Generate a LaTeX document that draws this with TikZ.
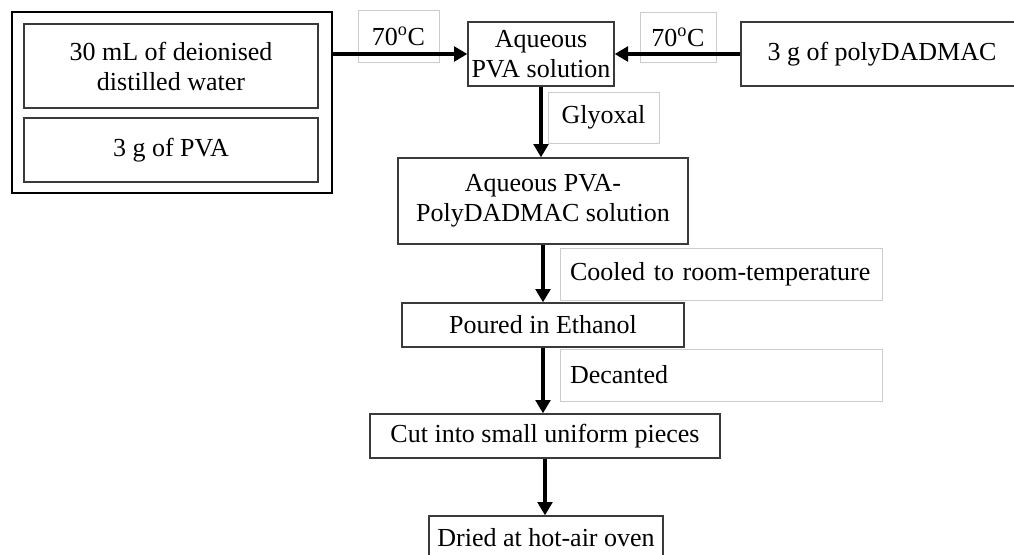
\documentclass[tikz,border=0pt]{standalone}
\usepackage{fontspec}
\setmainfont{Liberation Serif}
\usetikzlibrary{arrows.meta}
\definecolor{boxgray}{HTML}{3A3A3A}
\definecolor{labgray}{HTML}{CCCCCC}
\begin{document}
\begin{tikzpicture}[x=0.75pt,y=-0.75pt,
  every node/.style={font=\fontsize{19.5pt}{22.5pt}\selectfont},
  stepbox/.style={draw=boxgray, line width=1pt, inner sep=0pt, align=center},
  labbox/.style={draw=labgray, line width=0.75pt, inner sep=0pt, align=center},
  arr/.style={line width=3pt, -{Triangle[length=10pt,width=11pt]}}]
\useasboundingbox (0,0) rectangle (1014,554);
% left group
\node[stepbox, draw=black, minimum width=320*0.75pt, minimum height=181*0.75pt] (outer) at (172,102.5) {};
\node[stepbox, minimum width=294*0.75pt, minimum height=84*0.75pt] (water) at (171,66) {30 mL of deionised\\distilled water};
\node[stepbox, minimum width=294*0.75pt, minimum height=64*0.75pt] (pva) at (171,150) {3 g of PVA};
% main column
\node[stepbox, minimum width=146*0.75pt, minimum height=64*0.75pt] (aq) at (541,54) {Aqueous\\PVA solution};
\node[stepbox, minimum width=282*0.75pt, minimum height=64*0.75pt] (poly) at (882,54) {3 g of polyDADMAC};
\node[stepbox, minimum width=290*0.75pt, minimum height=86*0.75pt] (mix) at (543,201) {Aqueous PVA-\\PolyDADMAC solution};
\node[stepbox, minimum width=282*0.75pt, minimum height=44*0.75pt] (pour) at (543,325) {Poured in Ethanol};
\node[stepbox, minimum width=350*0.75pt, minimum height=44*0.75pt] (cut) at (545,436) {Cut into small uniform pieces};
\node[stepbox, minimum width=234*0.75pt, minimum height=44*0.75pt] (dried) at (546,538) {Dried at hot-air oven};
% condition labels
\node[labbox, minimum width=81*0.75pt, minimum height=52*0.75pt] (t1) at (398.5,36) {70\textsuperscript{o}C};
\node[labbox, minimum width=76*0.75pt, minimum height=50*0.75pt] (t2) at (678,37) {70\textsuperscript{o}C};
\node[labbox, minimum width=111*0.75pt, minimum height=51*0.75pt] (gly) at (603.5,117.5) {Glyoxal};
\node[labbox, align=left, inner xsep=7.5pt, text width=302*0.75pt, minimum height=52*0.75pt] (cool) at (721,274) {Cooled to room-temperature};
\node[labbox, align=left, inner xsep=7.5pt, text width=302*0.75pt, minimum height=52*0.75pt] (dec) at (721,375) {Decanted};
% connectors
\draw[arr] (outer.east |- aq.west) -- (aq.west);
\draw[arr] (poly.west) -- (aq.east);
\draw[arr] (aq.south) -- (aq.south |- mix.north);
\draw[arr] (mix.south) -- (mix.south |- pour.north);
\draw[arr] (pour.south) -- (pour.south |- cut.north);
\draw[arr] (cut.south) -- (cut.south |- dried.north);
\end{tikzpicture}
\end{document}
